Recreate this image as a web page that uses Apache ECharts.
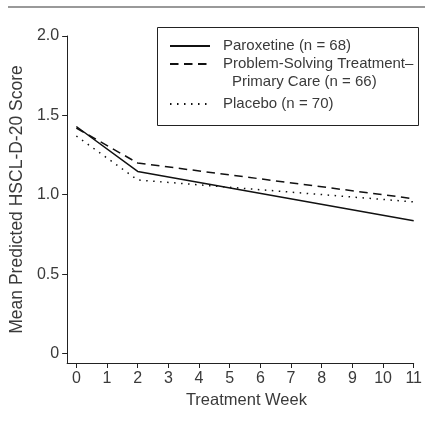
<!DOCTYPE html>
<html>
<head>
<meta charset="utf-8">
<script src="https://cdn.jsdelivr.net/npm/echarts@6/dist/echarts.min.js"></script>
<style>
html,body{margin:0;padding:0;background:#fff;}
#chart{width:425px;height:424px;}
</style>
</head>
<body>
<div id="chart"></div>
<script>
// Data
const weeks = [0, 2, 11];
const paroxetine = [1.43, 1.147, 0.836];
const pstpc = [1.42, 1.20, 0.975];
const placebo = [1.37, 1.093, 0.955];
const seriesNames = ['Paroxetine (n = 68)', 'Problem-Solving Treatment–', 'Placebo (n = 70)'];
const legendSecondLine = 'Primary Care (n = 66)';
const xTicks = [0,1,2,3,4,5,6,7,8,9,10,11];
const yTicks = [0, 0.5, 1.0, 1.5, 2.0];

const FONT = '"Liberation Sans", Arial, sans-serif';
const TXT = '#3a3a3a';

function pairs(xs, ys){ return xs.map((x,i)=>[x, ys[i]]); }

const chart = echarts.init(document.getElementById('chart'), null, {renderer:'canvas'});

const legendCommon = {
  orient: 'vertical',
  padding: 0,
  itemWidth: 40,
  itemHeight: 16,
  itemGap: 0,
  selectedMode: false,
  itemStyle: {opacity: 0, borderWidth: 0},
  textStyle: {fontFamily: FONT, fontSize: 15, lineHeight: 16, color: TXT, padding: [0,0,0,8]},
  left: 169
};

const option = {
  animation: false,
  backgroundColor: '#fff',
  grid: {left: 64, right: 5, top: 36, bottom: 61, containLabel: false},
  xAxis: {
    type: 'value',
    min: -0.3, max: 11,
    name: 'Treatment Week',
    nameLocation: 'middle',
    nameGap: 28,
    nameTextStyle: {fontFamily: FONT, fontSize: 16.5, color: TXT, padding: [0,0,0,12]},
    axisLine: {show: true, onZero: false, lineStyle: {color: '#222', width: 1}},
    axisTick: {show: true, length: 5, customValues: xTicks, lineStyle: {color: '#222'}},
    axisLabel: {customValues: xTicks, fontFamily: FONT, fontSize: 16, color: TXT, margin: 8, showMinLabel: true, showMaxLabel: true},
    splitLine: {show: false}
  },
  yAxis: {
    type: 'value',
    min: -0.06, max: 2.0,
    name: 'Mean Predicted HSCL-D-20 Score',
    nameLocation: 'middle',
    nameGap: 38,
    nameTextStyle: {fontFamily: FONT, fontSize: 17.5, color: TXT},
    axisLine: {show: true, onZero: false, lineStyle: {color: '#222', width: 1}},
    axisTick: {show: true, length: 5, customValues: yTicks, lineStyle: {color: '#222'}},
    axisLabel: {customValues: yTicks, fontFamily: FONT, fontSize: 16, color: TXT, margin: 8,
      formatter: v => (v === 0 ? '0' : v.toFixed(1))},
    splitLine: {show: false}
  },
  legend: [
    Object.assign({}, legendCommon, {top: 38, data: [seriesNames[0]]}),
    Object.assign({}, legendCommon, {top: 56, data: [seriesNames[1]]}),
    Object.assign({}, legendCommon, {top: 96, data: [seriesNames[2]]})
  ],
  graphic: [
    {type: 'line', shape: {x1: 8, y1: 7, x2: 425, y2: 7}, style: {stroke: '#777', lineWidth: 1.5}, silent: true},
    {type: 'rect', shape: {x: 157.5, y: 27.5, width: 261, height: 98}, style: {fill: 'none', stroke: '#222', lineWidth: 1}, silent: true, z: 0},
    {type: 'text', x: 232, y: 82, style: {text: legendSecondLine, font: '15px ' + FONT, fill: TXT, verticalAlign: 'middle'}, silent: true}
  ],
  series: [
    {name: seriesNames[0], type: 'line', data: pairs(weeks, paroxetine), symbol: 'none',
     lineStyle: {color: '#111', width: 1.5, type: 'solid'}, itemStyle: {color: '#111'}},
    {name: seriesNames[1], type: 'line', data: pairs(weeks, pstpc), symbol: 'none',
     lineStyle: {color: '#111', width: 1.5, type: [8.5, 5.5]}, itemStyle: {color: '#111'}},
    {name: seriesNames[2], type: 'line', data: pairs(weeks, placebo), symbol: 'none',
     lineStyle: {color: '#111', width: 1.5, type: [1.5, 5.5]}, itemStyle: {color: '#111'}}
  ]
};
chart.setOption(option);
</script>
</body>
</html>
